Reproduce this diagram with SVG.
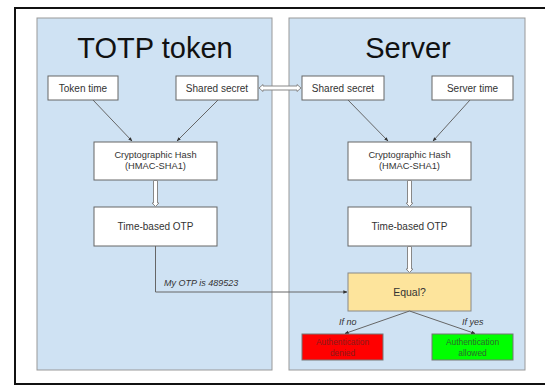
<svg xmlns="http://www.w3.org/2000/svg" width="545" height="385" viewBox="0 0 545 385">
<defs>
<marker id="ah" viewBox="0 0 6 6" refX="5.5" refY="3" markerWidth="4" markerHeight="4" orient="auto" markerUnits="userSpaceOnUse">
<path d="M0,0.5 L6,3 L0,5.5 Z" fill="#333"/>
</marker>
</defs>
<style>
text{font-family:"Liberation Sans",Arial,sans-serif;fill:#333}
.panel{fill:#cfe2f3;stroke:#999;stroke-width:1}
.box{fill:#fff;stroke:#666;stroke-width:1}
.t{font-size:10px;text-anchor:middle}
.s{font-size:9.3px;text-anchor:middle}
.title{font-size:29px;text-anchor:middle;fill:#111}
.lbl{font-size:9px;font-style:italic}
.ln{fill:none;stroke:#666;stroke-width:1}
.hollow{fill:#fff;stroke:#888;stroke-width:1}
</style>
<rect x="0" y="0" width="545" height="385" fill="#fff"/>
<path d="M545,8 L15,8 L15,384 L545,384" fill="none" stroke="#111" stroke-width="2"/>
<g id="panel-token">
<rect class="panel" x="37" y="18" width="235" height="352"/>
<text class="title" x="155" y="58">TOTP token</text>
</g>
<g id="panel-server">
<rect class="panel" x="289" y="18" width="236" height="352"/>
<text class="title" x="408" y="58">Server</text>
</g>
<g id="token-time"><rect class="box" x="48" y="76" width="70" height="24"/><text class="t" x="83" y="91.5">Token time</text></g>
<g id="token-secret"><rect class="box" x="176" y="76" width="82" height="24"/><text class="t" x="217" y="91.5">Shared secret</text></g>
<g id="server-secret"><rect class="box" x="302" y="76" width="82" height="24"/><text class="t" x="343" y="91.5">Shared secret</text></g>
<g id="server-time"><rect class="box" x="432" y="76" width="81" height="24"/><text class="t" x="472.5" y="91.5">Server time</text></g>
<g id="token-hash"><rect class="box" x="94" y="142" width="123" height="38"/><text class="s" x="155.5" y="158">Cryptographic Hash</text><text class="s" x="155.5" y="169">(HMAC-SHA1)</text></g>
<g id="server-hash"><rect class="box" x="348" y="142" width="123" height="38"/><text class="s" x="409.5" y="158">Cryptographic Hash</text><text class="s" x="409.5" y="169">(HMAC-SHA1)</text></g>
<g id="token-otp"><rect class="box" x="94" y="207" width="123" height="39"/><text class="t" x="155.5" y="230">Time-based OTP</text></g>
<g id="server-otp"><rect class="box" x="348" y="207" width="123" height="39"/><text class="t" x="409.5" y="230">Time-based OTP</text></g>
<g id="equal"><rect x="348" y="273" width="123" height="38" fill="#fde49c" stroke="#888" stroke-width="1"/><text x="409.5" y="296" font-size="10.5" text-anchor="middle">Equal?</text></g>
<g id="denied"><rect x="302" y="334" width="81" height="26" fill="#ff0000" stroke="#777" stroke-width="1"/><text x="342.5" y="345" font-size="8.4" text-anchor="middle" style="fill:#8a1a1a">Authentication</text><text x="342.5" y="355.5" font-size="8.4" text-anchor="middle" style="fill:#8a1a1a">denied</text></g>
<g id="allowed"><rect x="432" y="334" width="81" height="26" fill="#00ff00" stroke="#777" stroke-width="1"/><text x="472.5" y="345" font-size="8.4" text-anchor="middle" style="fill:#2d6a2d">Authentication</text><text x="472.5" y="355.5" font-size="8.4" text-anchor="middle" style="fill:#2d6a2d">allowed</text></g>
<g id="connectors">
<line class="ln" x1="93" y1="100" x2="132" y2="141" marker-end="url(#ah)"/>
<line class="ln" x1="218" y1="100" x2="177" y2="141" marker-end="url(#ah)"/>
<line class="ln" x1="348" y1="100" x2="388" y2="141" marker-end="url(#ah)"/>
<line class="ln" x1="470" y1="100" x2="433" y2="141" marker-end="url(#ah)"/>
<path class="hollow" d="M259,88 L263,84.5 L263,86 L297,86 L297,84.5 L301,88 L297,91.5 L297,90 L263,90 L263,91.5 Z"/>
<path class="hollow" d="M153.5,180.5 L157.5,180.5 L157.5,203 L159,203 L155.5,206.5 L152,203 L153.5,203 Z"/>
<path class="hollow" d="M407.5,180.5 L411.5,180.5 L411.5,203 L413,203 L409.5,206.5 L406,203 L407.5,203 Z"/>
<path class="hollow" d="M407.5,246.5 L411.5,246.5 L411.5,269 L413,269 L409.5,272.5 L406,269 L407.5,269 Z"/>
<path class="ln" d="M155.5,246 L155.5,292 L347,292" marker-end="url(#ah)"/>
<line class="ln" x1="409.5" y1="311" x2="345" y2="333.5" marker-end="url(#ah)"/>
<line class="ln" x1="409.5" y1="311" x2="475" y2="333.5" marker-end="url(#ah)"/>
<text class="lbl" x="164" y="286">My OTP is 489523</text>
<text class="lbl" x="339" y="325">If no</text>
<text class="lbl" x="462" y="325">If yes</text>
</g>
</svg>
